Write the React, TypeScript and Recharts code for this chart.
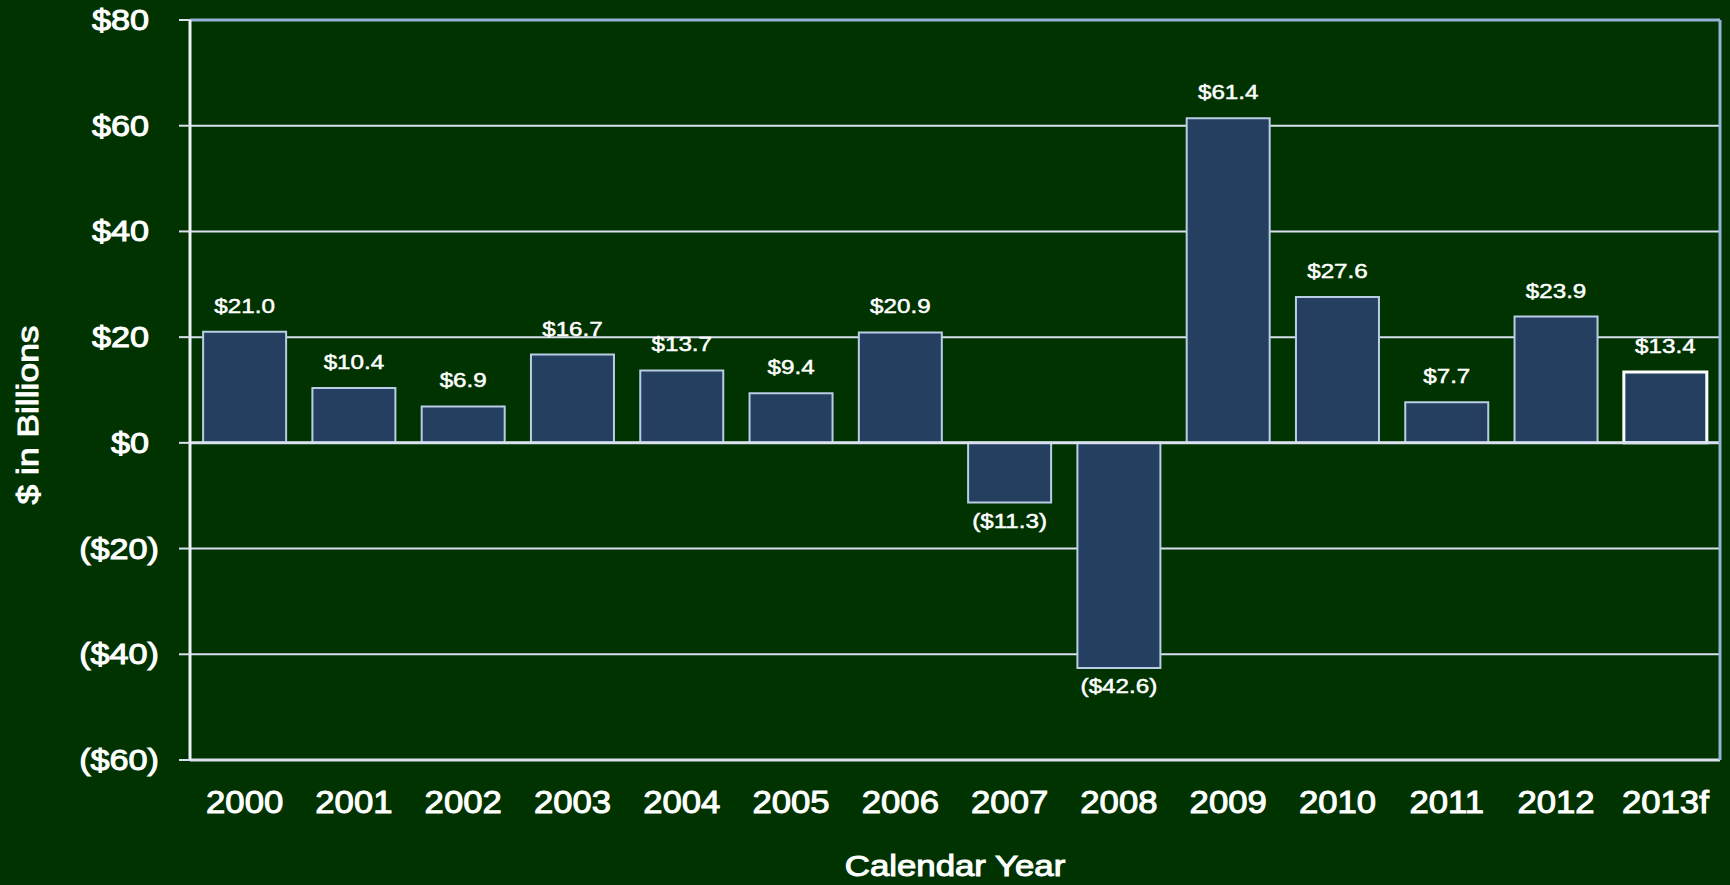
import { Bar, BarChart, CartesianGrid, Cell, LabelList, ReferenceLine, XAxis, YAxis } from "recharts"

// Net flows by calendar year, $ in billions
const years = ["2000", "2001", "2002", "2003", "2004", "2005", "2006", "2007", "2008", "2009", "2010", "2011", "2012", "2013f"]
const netFlows = [21.0, 10.4, 6.9, 16.7, 13.7, 9.4, 20.9, -11.3, -42.6, 61.4, 27.6, 7.7, 23.9, 13.4]
const yTicks = [-60, -40, -20, 0, 20, 40, 60, 80]

const data = years.map((year, i) => ({ year, value: netFlows[i] }))

const FONT = '"Liberation Sans", Arial, sans-serif'
const BG = "#003300"
const BAR_FILL = "#253F60"
const BAR_STROKE = "#B9CDE5"
const GRID = "#D9E0EE"
const BORDER = "#95B3D7"

function money(v: number, digits: number): string {
    const s = Math.abs(v).toFixed(digits)
    return v < 0 ? `($${s})` : `$${s}`
}

function YTick(props: any) {
    const { x, y, payload } = props
    const v = payload.value as number
    // positive numbers leave room for the closing paren, like Excel's _) format
    const endX = v < 0 ? x : x - 10
    return (
        <text
            transform={`translate(${endX},${y + 10}) scale(1.18,1)`}
            textAnchor="end"
            fill="#FFFFFF"
            stroke="#FFFFFF"
            strokeWidth={1}
            fontFamily={FONT}
            fontSize={29}
        >
            {money(v, 0)}
        </text>
    )
}

function XTick(props: any) {
    const { x, y, payload } = props
    return (
        <text
            transform={`translate(${x},${y + 53}) scale(1.12,1)`}
            textAnchor="middle"
            fill="#FFFFFF"
            stroke="#FFFFFF"
            strokeWidth={1}
            fontFamily={FONT}
            fontSize={31}
        >
            {payload.value}
        </text>
    )
}

function ValueLabel(props: any) {
    const { x, y, width, height, value } = props
    const top = Math.min(y, y + height)
    const bottom = Math.max(y, y + height)
    const ty = value < 0 ? bottom + 25 : top - 19
    return (
        <text
            transform={`translate(${x + width / 2},${ty}) scale(1.18,1)`}
            textAnchor="middle"
            fill="#FFFFFF"
            stroke="#FFFFFF"
            strokeWidth={0.5}
            fontFamily={FONT}
            fontSize={20.5}
        >
            {money(value, 1)}
        </text>
    )
}

function XTitle(props: any) {
    const { viewBox } = props
    return (
        <text
            transform={`translate(${viewBox.x + viewBox.width / 2},${viewBox.y + viewBox.height - 9}) scale(1.2,1)`}
            textAnchor="middle"
            fill="#FFFFFF"
            stroke="#FFFFFF"
            strokeWidth={1}
            fontFamily={FONT}
            fontSize={29}
        >
            Calendar Year
        </text>
    )
}

function YTitle(props: any) {
    const { viewBox } = props
    return (
        <text
            transform={`translate(38,${viewBox.y + viewBox.height / 2 + 25}) rotate(-90) scale(1.18,1)`}
            textAnchor="middle"
            fill="#FFFFFF"
            stroke="#FFFFFF"
            strokeWidth={1}
            fontFamily={FONT}
            fontSize={30}
        >
            $ in Billions
        </text>
    )
}

export default function App() {
    return (
        <div style={{ position: "absolute", left: 0, top: 0, width: 1730, height: 885, background: BG }}>
            <BarChart
                width={1730}
                height={885}
                data={data}
                margin={{ top: 20, right: 0, left: 0, bottom: 0 }}
                barCategoryGap="12%"
            >
                <CartesianGrid yAxisId="left" vertical={false} stroke={GRID} strokeWidth={2} />
                <XAxis
                    dataKey="year"
                    height={125}
                    tickLine={false}
                    tickSize={0}
                    tickMargin={0}
                    axisLine={{ stroke: GRID, strokeWidth: 3 }}
                    tick={<XTick />}
                    interval={0}
                    label={{ value: "Calendar Year", content: <XTitle /> }}
                />
                <YAxis
                    yAxisId="left"
                    width={190}
                    domain={[-60, 80]}
                    ticks={yTicks}
                    allowDataOverflow
                    tickSize={11}
                    tickMargin={20}
                    tickLine={{ stroke: GRID, strokeWidth: 2 }}
                    axisLine={{ stroke: "#EEF1F8", strokeWidth: 3 }}
                    tick={<YTick />}
                    label={{ value: "$ in Billions", content: <YTitle /> }}
                />
                <YAxis
                    yAxisId="right"
                    orientation="right"
                    width={10}
                    domain={[-60, 80]}
                    ticks={yTicks}
                    tick={false}
                    tickLine={false}
                    axisLine={{ stroke: BORDER, strokeWidth: 3 }}
                />
                <ReferenceLine yAxisId="left" y={80} stroke={BORDER} strokeWidth={3} />
                <Bar yAxisId="left" dataKey="value" fill={BAR_FILL} isAnimationActive={false}>
                    {data.map((d) => (
                        <Cell
                            key={d.year}
                            stroke={d.year === "2013f" ? "#FFFFFF" : BAR_STROKE}
                            strokeWidth={d.year === "2013f" ? 3 : 2}
                        />
                    ))}
                    <LabelList dataKey="value" content={<ValueLabel />} />
                </Bar>
                <ReferenceLine yAxisId="left" y={0} stroke={GRID} strokeWidth={3} />
            </BarChart>
        </div>
    )
}
